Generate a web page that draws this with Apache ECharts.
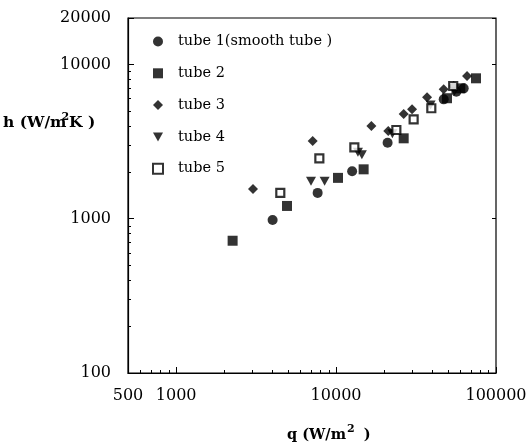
<!DOCTYPE html>
<html>
<head>
<meta charset="utf-8">
<script src="https://cdn.jsdelivr.net/npm/echarts@6/dist/echarts.min.js"></script>
<style>
  html, body { margin: 0; padding: 0; background: #fff; }
  #chart { width: 527px; height: 442px; }
</style>
</head>
<body>
<div id="chart"></div>
<script>
// data: [q (W/m2), h (W/m2K)]
const tube1 = [[4010, 980], [7670, 1470], [12600, 2030], [21000, 3110], [47100, 5940], [56500, 6660], [62800, 7000]]
const tube2 = [[2255, 720], [4935, 1210], [10280, 1840], [14870, 2090], [26470, 3320], [49400, 6040], [59800, 7000], [75000, 8130]]
const tube3 = [[3025, 1556], [7140, 3190], [16630, 3990], [21200, 3700], [26470, 4770], [29870, 5120], [37050, 6120], [47100, 6900], [54400, 7250], [65900, 8420]]
const tube4 = [[6970, 1750], [8480, 1750], [13700, 2700], [14500, 2600], [22500, 3550], [39000, 5460], [55000, 6700]]
const tube5 = [[4480, 1470], [7860, 2460], [13010, 2900], [23820, 3760], [30550, 4410], [39400, 5200], [54000, 7250]]

const seriesNames = ['tube 1(smooth tube )', 'tube 2', 'tube 3', 'tube 4', 'tube 5']

// minor ticks of the log axes
const xMinor = [600, 700, 800, 900, 2000, 3000, 4000, 5000, 6000, 7000, 8000, 9000, 20000, 30000, 40000, 50000, 60000, 70000, 80000, 90000]
const yMinor = [200, 300, 400, 500, 600, 700, 800, 900, 2000, 3000, 4000, 5000, 6000, 7000, 8000, 9000]

const font = 'DejaVu Serif, serif'
const downTriangle = 'path://M0,0 L10,0 L5,9 Z'
const chart = echarts.init(document.getElementById('chart'))

const baseAxis = {
  type: 'log',
  logBase: 10,
  axisLine: { show: true, lineStyle: { color: '#000', width: 1.2 } },
  splitLine: { show: false },
}

chart.setOption({
  animation: false,
  grid: {
    left: 128, right: 31, top: 18, bottom: 69,
    outerBoundsMode: 'none',
    show: true, borderColor: '#000', borderWidth: 1.2,
  },
  legend: {
    orient: 'vertical',
    left: 147,
    top: 29,
    itemGap: 16.8,
    itemWidth: 10,
    itemHeight: 10,
    textStyle: { fontFamily: font, fontSize: 14.5, color: '#000', padding: [0, 0, 0, 10] },
    data: [
      { name: seriesNames[0], icon: 'circle' },
      { name: seriesNames[1], icon: 'rect' },
      { name: seriesNames[2], icon: 'diamond' },
      { name: seriesNames[3], icon: downTriangle },
      { name: seriesNames[4], icon: 'rect' },
    ],
  },
  xAxis: [
    {
      ...baseAxis,
      min: 500, max: 100000,
      axisTick: { inside: true, length: 6, lineStyle: { color: '#000' } },
      axisLabel: {
        fontFamily: font, fontSize: 16, color: '#000', margin: 15,
        showMinLabel: true, showMaxLabel: true,
        formatter: (v) => String(Math.round(v)),
      },
    },
    {
      ...baseAxis,
      position: 'bottom',
      min: 500, max: 100000,
      axisLine: { show: false },
      axisTick: { inside: true, length: 3, customValues: xMinor, lineStyle: { color: '#000' } },
      axisLabel: { show: false },
    },
  ],
  yAxis: [
    {
      ...baseAxis,
      min: 100, max: 20000,
      axisTick: { inside: true, length: 6, lineStyle: { color: '#000' } },
      axisLabel: {
        fontFamily: font, fontSize: 16, color: '#000', margin: 17,
        showMinLabel: true, showMaxLabel: true,
        formatter: (v) => String(Math.round(v)),
      },
    },
    {
      ...baseAxis,
      position: 'left',
      min: 100, max: 20000,
      axisLine: { show: false },
      axisTick: { inside: true, length: 3, customValues: yMinor, lineStyle: { color: '#000' } },
      axisLabel: { show: false },
    },
    {
      ...baseAxis,
      position: 'right',
      min: 100, max: 20000,
      axisLine: { show: false },
      axisTick: { inside: true, length: 4, lineStyle: { color: '#000' } },
      axisLabel: { show: false },
    },
  ],
  graphic: [
    {
      type: 'text', left: 3, top: 112,
      style: {
        text: '{b|h (W/m}{s|2}{b|K )}',
        rich: {
          b: { fontFamily: font, fontSize: 15.5, fontWeight: 'bold', fill: '#000' },
          s: { fontFamily: font, fontSize: 11, fontWeight: 'bold', fill: '#000', padding: [0, 0, 10, -5] },
        },
      },
    },
    {
      type: 'text', left: 287, top: 424,
      style: {
        text: '{b|q (W/m}{s|2}{b| )}',
        rich: {
          b: { fontFamily: font, fontSize: 14.5, fontWeight: 'bold', fill: '#000' },
          s: { fontFamily: font, fontSize: 11, fontWeight: 'bold', fill: '#000', padding: [0, 4, 12, 1] },
        },
      },
    },
  ],
  series: [
    { name: seriesNames[0], type: 'scatter', symbol: 'circle', symbolSize: 10, itemStyle: { color: '#000' }, data: tube1 },
    { name: seriesNames[1], type: 'scatter', symbol: 'rect', symbolSize: 10, itemStyle: { color: '#000' }, data: tube2 },
    { name: seriesNames[2], type: 'scatter', symbol: 'diamond', symbolSize: 10, itemStyle: { color: '#000' }, data: tube3 },
    { name: seriesNames[3], type: 'scatter', symbol: downTriangle, symbolSize: [10, 9], itemStyle: { color: '#000' }, data: tube4 },
    { name: seriesNames[4], type: 'scatter', symbol: 'rect', symbolSize: 8, itemStyle: { color: '#fff', borderColor: '#000', borderWidth: 2.2 }, data: tube5 },
  ],
})
</script>
</body>
</html>
